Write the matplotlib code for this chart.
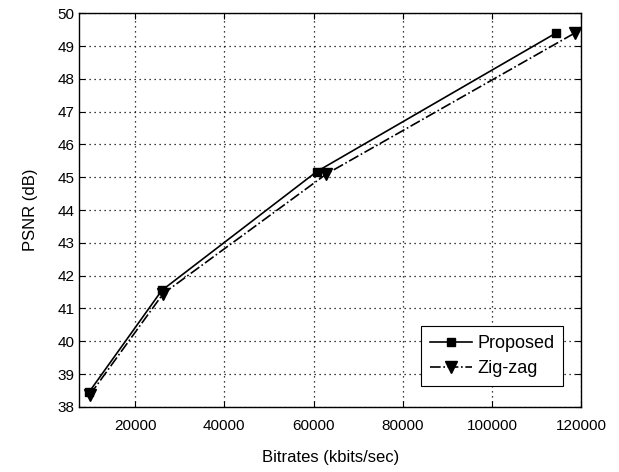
import matplotlib.pyplot as plt

plt.rcParams['font.family'] = ['Liberation Sans', 'DejaVu Sans']

prop_x = [9700, 26000, 60700, 114400]
prop_y = [38.45, 41.55, 45.17, 49.4]
zig_x = [9900, 26300, 62900, 118600]
zig_y = [38.37, 41.45, 45.1, 49.4]

fig = plt.figure(figsize=(6.19, 4.72), dpi=100)
ax = fig.add_axes([0.128, 0.138, 0.811, 0.834])

ax.plot(prop_x, prop_y, color='black', linestyle='-', linewidth=1.2,
        marker='s', markersize=6, label='Proposed')
ax.plot(zig_x, zig_y, color='black', linestyle='-.', linewidth=1.2,
        marker='v', markersize=9, label='Zig-zag')

ax.set_xlim(7500, 120000)
ax.set_ylim(38, 50)
ax.set_xticks([20000, 40000, 60000, 80000, 100000, 120000])
ax.set_yticks(range(38, 51))
ax.tick_params(direction='in', labelsize=11, top=True, right=True, length=4)
ax.tick_params(axis='x', pad=9)
ax.grid(True, linestyle=(0, (1, 3)), color='black', linewidth=0.9)
for s in ax.spines.values():
    s.set_linewidth(1.0)

ax.set_xlabel('Bitrates (kbits/sec)', fontsize=12, labelpad=12)
ax.set_ylabel('PSNR (dB)', fontsize=12, labelpad=14)

leg = ax.legend(loc='lower right', bbox_to_anchor=(0.964, 0.053), fontsize=13,
                fancybox=False, framealpha=1, edgecolor='black',
                handlelength=2.3, borderpad=0.5, labelspacing=0.45,
                handletextpad=0.3, borderaxespad=0)
leg.get_frame().set_linewidth(0.8)

fig.savefig('out.png', dpi=100)
